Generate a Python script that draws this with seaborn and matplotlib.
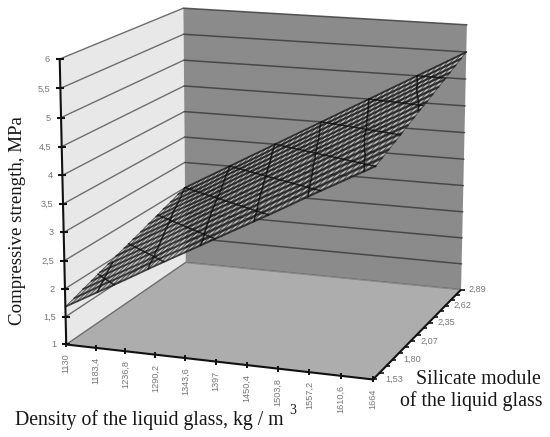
import numpy as np
import pandas as pd
import matplotlib
matplotlib.use("Agg")
import matplotlib.pyplot as plt
import seaborn as sns

# ---- data ----
density = [1130, 1183.4, 1236.8, 1290.2, 1343.6, 1397, 1450.4, 1503.8, 1557.2, 1610.6, 1664]
density_labels = ["1130", "1183,4", "1236,8", "1290,2", "1343,6", "1397", "1450,4", "1503,8", "1557,2", "1610,6", "1664"]
module = [1.53, 1.62, 1.71, 1.80, 1.89, 1.98, 2.07, 2.16, 2.26, 2.35, 2.44, 2.53, 2.62, 2.71, 2.80, 2.89]
module_labels = {0: "1,53", 3: "1,80", 6: "2,07", 9: "2,35", 12: "2,62", 15: "2,89"}
strength_ticks = [1, 1.5, 2, 2.5, 3, 3.5, 4, 4.5, 5, 5.5, 6]
strength_labels = ["1", "1,5", "2", "2,5", "3", "3,5", "4", "4,5", "5", "5,5", "6"]
strength = [
    [1.68, 1.97, 2.26, 2.56, 2.85, 3.14, 3.43, 3.72, 4.02, 4.31, 4.60],
    [1.73, 2.03, 2.32, 2.62, 2.90, 3.19, 3.49, 3.78, 4.08, 4.37, 4.66],
    [1.79, 2.08, 2.37, 2.67, 2.96, 3.26, 3.54, 3.84, 4.14, 4.43, 4.72],
    [1.84, 2.14, 2.43, 2.73, 3.02, 3.31, 3.61, 3.89, 4.20, 4.48, 4.78],
    [1.90, 2.19, 2.48, 2.78, 3.08, 3.37, 3.66, 3.95, 4.26, 4.55, 4.84],
    [1.95, 2.24, 2.54, 2.84, 3.13, 3.43, 3.72, 4.01, 4.32, 4.61, 4.90],
    [2.01, 2.30, 2.59, 2.90, 3.19, 3.48, 3.78, 4.07, 4.38, 4.67, 4.96],
    [2.06, 2.36, 2.65, 2.95, 3.24, 3.54, 3.83, 4.12, 4.44, 4.73, 5.02],
    [2.12, 2.41, 2.71, 3.01, 3.31, 3.60, 3.90, 4.19, 4.49, 4.78, 5.08],
    [2.17, 2.47, 2.77, 3.06, 3.36, 3.66, 3.95, 4.25, 4.55, 4.84, 5.14],
    [2.23, 2.53, 2.81, 3.12, 3.42, 3.71, 4.01, 4.31, 4.61, 4.91, 5.20],
    [2.28, 2.58, 2.87, 3.18, 3.47, 3.77, 4.06, 4.36, 4.67, 4.97, 5.26],
    [2.34, 2.63, 2.93, 3.23, 3.53, 3.83, 4.12, 4.42, 4.73, 5.03, 5.32],
    [2.39, 2.68, 2.99, 3.29, 3.59, 3.88, 4.19, 4.48, 4.78, 5.08, 5.38],
    [2.45, 2.74, 3.04, 3.34, 3.65, 3.95, 4.24, 4.54, 4.84, 5.14, 5.44],
    [2.50, 2.80, 3.10, 3.40, 3.70, 4.00, 4.30, 4.60, 4.90, 5.20, 5.50],
]
contour_levels = [2.0, 2.5, 3.0, 3.5, 4.0, 4.5, 5.0]
# (density, module) end points of the oblique mesh lines seen on the surface
oblique_start_density = [1130, 1130, 1130, 1130, 1219, 1308, 1397, 1486, 1575]
oblique_start_module = [1.87, 2.21, 2.55, 2.89, 2.89, 2.89, 2.89, 2.89, 2.89]
oblique_end_density = [1219, 1308, 1397, 1488, 1575, 1664, 1664, 1664, 1664]
oblique_end_module = [1.53, 1.53, 1.53, 1.53, 1.53, 1.53, 1.87, 2.21, 2.55]

# ---- projection of the box (category index space -> figure pixels) ----
box_world = np.array([[0, 0, 1], [1, 0, 1], [0, 1, 1], [1, 1, 1], [0, 0, 6], [0, 1, 6], [1, 1, 6]], float)
box_pixel = np.array([[66, 344], [373, 380], [186, 263], [461, 289], [60, 59], [183, 8], [467, 25]], float)
rows = []
for (a, b, c), (px, py) in zip(box_world, box_pixel):
    rows.append([a, b, c, 1, 0, 0, 0, 0, -px * a, -px * b, -px * c, -px])
    rows.append([0, 0, 0, 0, a, b, c, 1, -py * a, -py * b, -py * c, -py])
P = np.linalg.svd(np.array(rows))[2][-1].reshape(3, 4)


def project(u, v, z):
    u, v, z = np.asarray(u, float), np.asarray(v, float), np.asarray(z, float)
    h = P @ np.vstack([u.ravel(), v.ravel(), z.ravel(), np.ones(u.size)])
    return h[0] / h[2], h[1] / h[2]


d_arr, m_arr, z_arr = np.array(density), np.array(module), np.array(strength)
U = lambda d: (np.asarray(d, float) - density[0]) / (density[-1] - density[0])
V = lambda m: (np.asarray(m, float) - module[0]) / (module[-1] - module[0])


def surface_z(d, m):
    col = [np.interp(m, m_arr, z_arr[:, j]) for j in range(len(density))]
    return np.interp(d, d_arr, col)


sns.set_theme(style="white")
fig = plt.figure(figsize=(5.5, 4.37), dpi=100, facecolor="white")
ax = fig.add_axes([0, 0, 1, 1])

# ---- walls and floor ----
def face(us, vs, zs, color):
    x, y = project(us, vs, zs)
    ax.fill(x, y, color=color, lw=0, zorder=1)


face([0, 0, 0, 0], [0, 1, 1, 0], [1, 1, 6, 6], "#e8e8e8")
face([0, 1, 1, 0], [1, 1, 1, 1], [1, 1, 6, 6], "#8b8b8b")
face([0, 1, 1, 0], [0, 0, 1, 1], [1, 1, 1, 1], "#adadad")

# gridlines on the walls
for t in strength_ticks:
    x, y = project([0, 0], [0, 1], [t, t])
    ax.plot(x, y, color="#6e6e6e", lw=1.0, zorder=2, solid_capstyle="butt")
    x, y = project([0, 1], [1, 1], [t, t])
    ax.plot(x, y, color="#3d3d3d", lw=1.1, alpha=0.85 if t > 1 else 0.4, zorder=2)

# ---- surface wireframe ----
def frame(polylines):
    out = []
    for k, (x, y) in enumerate(polylines):
        out += [dict(line=k, px=a, py=b) for a, b in zip(x, y)]
    return pd.DataFrame(out)


# light streak between each pair of rows, dark rows, cross lines
light = []
for i in range(len(module) - 1):
    z_mid = (z_arr[i] + z_arr[i + 1]) / 2
    v_mid = (V(m_arr[i]) + V(m_arr[i + 1])) / 2
    light.append(project(U(d_arr), np.full(len(density), v_mid), z_mid))
wire_light = frame(light)

wire_rows = frame([project(U(d_arr), np.full(len(density), V(m)), z_arr[i]) for i, m in enumerate(module)])

cross = []
for j in range(len(density) - 1):
    for s in range(5):
        d = d_arr[j] + (d_arr[j + 1] - d_arr[j]) * s / 5
        cross.append(project(np.full(len(module), U(d)), V(m_arr), [surface_z(d, m) for m in m_arr]))
cross.append(project(np.ones(len(module)), V(m_arr), z_arr[:, -1]))
wire_cols = frame(cross)

heavy = []
for level in contour_levels:
    ds = np.array([np.interp(level, z_arr[i], d_arr, left=np.nan, right=np.nan) for i in range(len(module))])
    ok = ~np.isnan(ds)
    heavy.append(project(U(ds[ok]), V(m_arr[ok]), np.full(ok.sum(), level)))
for d0, m0, d1, m1 in zip(oblique_start_density, oblique_start_module, oblique_end_density, oblique_end_module):
    ds = np.array([d0, d1], float)
    ms = np.array([m0, m1], float)
    heavy.append(project(U(ds), V(ms), [surface_z(a, b) for a, b in zip(ds, ms)]))
wire_heavy = frame(heavy)

outline_x, outline_y = project(
    np.r_[U(d_arr), np.ones(15), U(d_arr[::-1]), np.zeros(15)],
    np.r_[np.zeros(11), V(m_arr[1:]), np.ones(11), V(m_arr[::-1][1:])],
    np.r_[z_arr[0], z_arr[1:, -1], z_arr[-1][::-1], z_arr[::-1][1:, 0]],
)
ax.fill(outline_x, outline_y, color="#1a1a1a", alpha=0.30, lw=0, zorder=3)

common = dict(x="px", y="py", units="line", estimator=None, sort=False, ax=ax, legend=False)
sns.lineplot(data=wire_light, color="#d0d0d0", lw=1.15, alpha=0.8, zorder=3.1, **common)
sns.lineplot(data=wire_rows, color="#1e1e1e", lw=1.2, alpha=0.8, zorder=3.2, **common)
sns.lineplot(data=wire_cols, color="#222222", lw=0.7, alpha=0.65, zorder=3.3, **common)
sns.lineplot(data=wire_heavy, color="#0e0e0e", lw=1.15, alpha=0.8, zorder=4, **common)

# ---- axes ----
axis_kw = dict(color="#111111", lw=1.5, zorder=5, solid_capstyle="butt")
x, y = project([0, 0], [0, 0], [1, 6]); ax.plot(x, y, **axis_kw)
x, y = project([0, 1], [0, 0], [1, 1]); ax.plot(x, y, **axis_kw)
x, y = project([1, 1], [0, 1], [1, 1]); ax.plot(x, y, **axis_kw)

tick_text = dict(family="Liberation Sans", color="#777777", fontsize=6.6, zorder=6)
for t, lab in zip(strength_ticks, strength_labels):
    x, y = project([0], [0], [t])
    ax.plot(x, y, marker="_", ms=6, mew=1.5, color="#111111", zorder=6)
    ax.text(x[0] - 10, y[0] + 0.5, lab, ha="right", va="center", **tick_text)
for d, lab in zip(density, density_labels):
    x, y = project([U(d)], [0], [1])
    ax.plot(x, y, marker="|", ms=5, mew=1.4, color="#111111", zorder=6)
    ax.text(x[0], y[0] + 9, lab, rotation=90, ha="center", va="top", **tick_text)
for i, m in enumerate(module):
    x, y = project([1], [V(m)], [1])
    ax.plot(x, y, marker=1, ms=2.6, mew=1.2, color="#111111", zorder=6)
    if i in module_labels:
        ax.text(x[0] + 12 - i / 3, y[0], module_labels[i], ha="left", va="center", **tick_text)

# ---- titles ----
serif = dict(family="Liberation Serif", color="#161616", zorder=7)
ax.text(18, 221, "Compressive strength, MPa", rotation=90, ha="center", va="center", fontsize=13.6, **serif)
ax.text(15, 420, "Density of the liquid glass, kg / m", ha="left", va="center", fontsize=14.2, **serif)
ax.text(289, 411, "3", ha="left", va="center", fontsize=10, **serif)
ax.text(541, 379, "Silicate module", ha="right", va="center", fontsize=14.3, **serif)
ax.text(542, 401, "of the liquid glass", ha="right", va="center", fontsize=14.3, **serif)

ax.set_xlim(0, 550)
ax.set_ylim(437, 0)
ax.axis("off")
fig.savefig("out.png", dpi=100)
